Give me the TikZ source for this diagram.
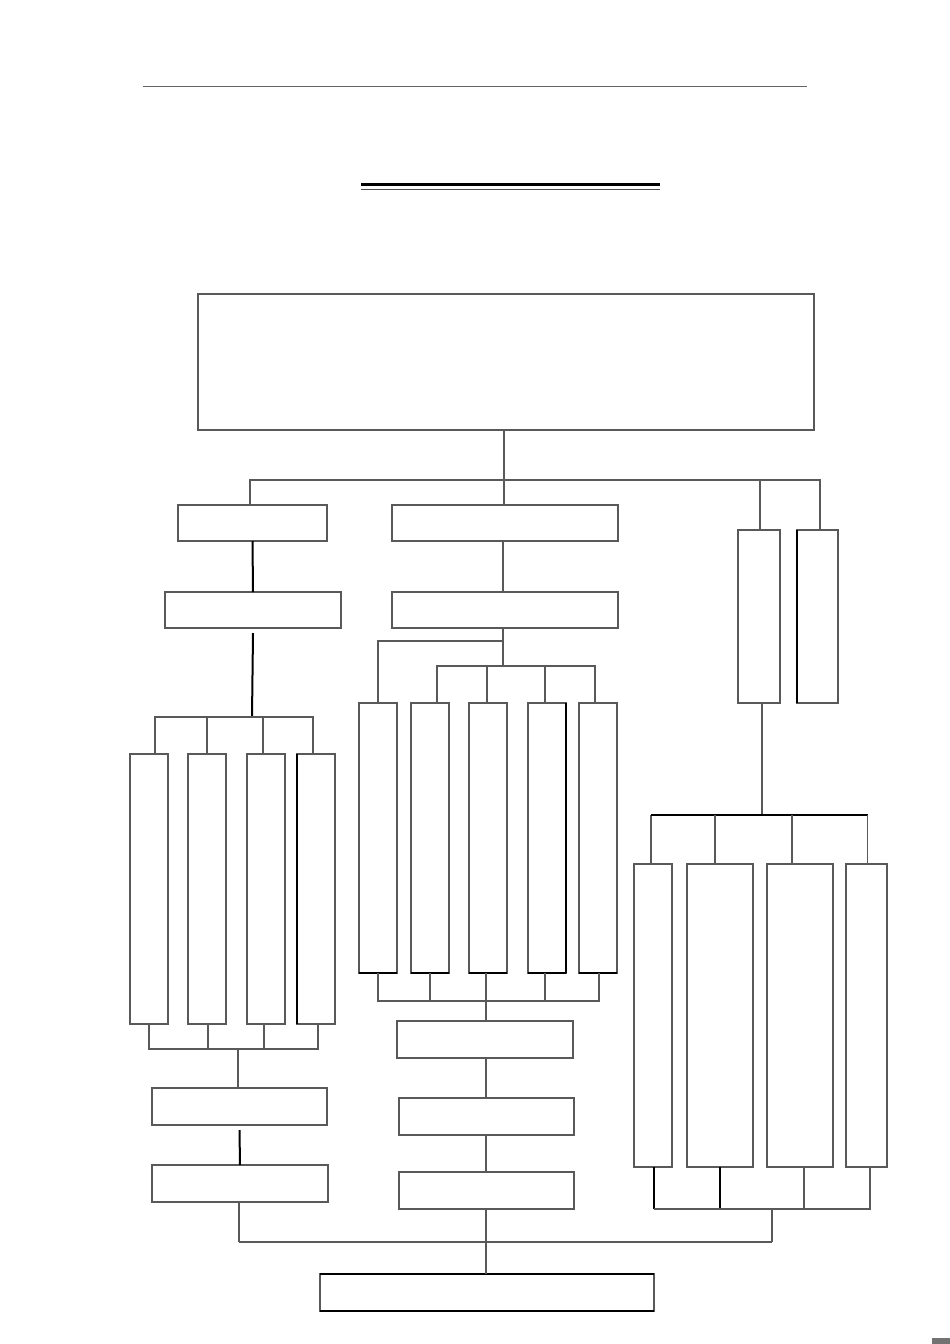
\documentclass[tikz,border=0pt]{standalone}
\begin{document}
\begin{tikzpicture}[x=1pt,y=-1pt,
  bx/.style={draw=black!65, line width=1.1pt, inner sep=0pt, outer sep=0pt, fill=white},
  ln/.style={draw=black!65, line width=1.1pt},
  tk/.style={draw=black, line width=2pt}]
\useasboundingbox (0,0) rectangle (950,1344);
\newcommand\bx[6][]{%
  \pgfmathsetmacro\bxw{#5-#3}\pgfmathsetmacro\bxh{#6-#4}%
  \pgfmathsetmacro\bxcx{(#3+#5)/2}\pgfmathsetmacro\bxcy{(#4+#6)/2}%
  \node[bx,minimum width=\bxw pt,minimum height=\bxh pt,#1] (#2) at (\bxcx,\bxcy) {};}
% header rule and title underline
\draw[draw=black!60, line width=1pt] (143,86) -- (807,86);
\draw[draw=black, line width=3.5pt] (361,184.5) -- (660,184.5);
\draw[draw=black!70, line width=1pt] (361,189.5) -- (660,189.5);
% boxes
\bx{top}{198}{294}{814}{430}
\bx{L1}{178}{505}{327}{541}
\bx{L2}{165}{592}{341}{628}
\bx{A1}{130}{754}{168}{1024}
\bx{A2}{188}{754}{226}{1024}
\bx{A3}{247}{754}{285}{1024}
\bx{A4}{297}{754}{335}{1024}
\bx{L3}{152}{1088}{327}{1125}
\bx{L4}{152}{1165}{328}{1202}
\bx{M1}{392}{505}{618}{541}
\bx{M2}{392}{592}{618}{628}
\bx{B1}{359}{703}{397}{973}
\bx{B2}{411}{703}{449}{973}
\bx{B3}{469}{703}{507}{973}
\bx{B4}{528}{703}{566}{973}
\bx{B5}{579}{703}{617}{973}
\bx{M3}{397}{1021}{573}{1058}
\bx{M4}{399}{1098}{574}{1135}
\bx{M5}{399}{1172}{574}{1209}
\bx{R1}{738}{530}{780}{703}
\bx{R2}{797}{530}{838}{703}
\bx{C1}{634}{864}{672}{1167}
\bx{C2}{687}{864}{753}{1167}
\bx{C3}{767}{864}{833}{1167}
\bx{C4}{846}{864}{887}{1167}
\bx{F}{320}{1274}{654}{1311}
% accents
\draw[tk,line width=1.6pt] (A4.north west) -- (A4.south west);
\draw[tk,line width=1.6pt] (R2.north west) -- (R2.south west);
\draw[tk,line width=1.6pt] (F.north west) -- (F.north east);
\draw[tk,line width=1.6pt] (F.south west) -- (F.south east);
\foreach \b in {B1,B2,B3,B4,B5} \draw[tk,line width=1.5pt] (\b.south west) -- (\b.south east);
\draw[tk,line width=1.5pt] (B4.north east) -- (B4.south east);
% coordinates for buses
\coordinate (tb) at (504,480);
\coordinate (lb) at (252,717);
\coordinate (lbb) at (238,1049);
\coordinate (mb1) at (503,641);
\coordinate (mb2) at (503,666);
\coordinate (mbb) at (486,1001);
\coordinate (rb) at (762,815);
\coordinate (rbb) at (772,1209);
\coordinate (fb) at (486,1242);
% top level
\draw[ln] (top.south -| tb) -- (tb);
\draw[ln] ([xshift=-2.5pt]L1.north) -- ([xshift=-2.5pt]L1.north |- tb) -- ([xshift=2.5pt]R2.north |- tb) -- ([xshift=2.5pt]R2.north);
\draw[ln] (tb) -- (M1.north -| tb);
\draw[ln] ([xshift=1pt]R1.north) -- ([xshift=1pt]R1.north |- tb);
% left column
\draw[tk] (L1.south) -- (L2.north);
\draw[tk] ([yshift=-5pt]L2.south) -- (lb);
\draw[ln] ([xshift=6pt]A1.north) -- ([xshift=6pt]A1.north |- lb) -- ([xshift=-3pt]A4.north |- lb) -- ([xshift=-3pt]A4.north);
\draw[ln] (A2.north) -- (A2.north |- lb);
\draw[ln] ([xshift=-3pt]A3.north) -- ([xshift=-3pt]A3.north |- lb);
\draw[ln] (A1.south) -- (A1.south |- lbb) -- ([xshift=2pt]A4.south |- lbb) -- ([xshift=2pt]A4.south);
\draw[ln] ([xshift=1pt]A2.south) -- ([xshift=1pt]A2.south |- lbb);
\draw[ln] ([xshift=-2pt]A3.south) -- ([xshift=-2pt]A3.south |- lbb);
\draw[ln] (lbb) -- (L3.north -| lbb);
\draw[tk] ([yshift=-5pt]L3.south) -- (L4.north);
\draw[ln] ([xshift=-1pt]L4.south) -- ([xshift=-1pt]L4.south |- fb);
% middle column
\draw[ln] (M1.south -| mb1) -- (M2.north -| mb1);
\draw[ln] (M2.south -| mb1) -- (mb2);
\draw[ln] (mb1) -- (mb1 -| B1.north) -- (B1.north);
\draw[ln] ([xshift=7pt]B2.north) -- ([xshift=7pt]B2.north |- mb2) -- ([xshift=-3pt]B5.north |- mb2) -- ([xshift=-3pt]B5.north);
\draw[ln] ([xshift=-1pt]B3.north) -- ([xshift=-1pt]B3.north |- mb2);
\draw[ln] ([xshift=-2pt]B4.north) -- ([xshift=-2pt]B4.north |- mb2);
\draw[ln] (B1.south) -- (B1.south |- mbb) -- ([xshift=1pt]B5.south |- mbb) -- ([xshift=1pt]B5.south);
\draw[ln] (B2.south) -- (B2.south |- mbb);
\draw[ln] ([xshift=-2pt]B3.south) -- ([xshift=-2pt]B3.south |- mbb);
\draw[ln] ([xshift=-2pt]B4.south) -- ([xshift=-2pt]B4.south |- mbb);
\draw[ln] (mbb) -- (M3.north -| mbb);
\draw[ln] (M3.south -| mbb) -- (M4.north -| mbb);
\draw[ln] (M4.south -| mbb) -- (M5.north -| mbb);
\draw[ln] (M5.south -| mbb) -- (F.north -| mbb);
% right column
\draw[ln] (R1.south -| rb) -- (rb);
\draw[ln] ([xshift=-2pt]C1.north) -- ([xshift=-2pt]C1.north |- rb);
\draw[tk,line width=1.6pt] ([xshift=-2pt]C1.north |- rb) -- ([xshift=1pt]C4.north |- rb);
\draw[ln] ([xshift=1pt]C4.north |- rb) -- ([xshift=1pt]C4.north);
\draw[ln] ([xshift=-5pt]C2.north) -- ([xshift=-5pt]C2.north |- rb);
\draw[ln] ([xshift=-8pt]C3.north) -- ([xshift=-8pt]C3.north |- rb);
\draw[tk,line width=1.6pt] ([xshift=1pt]C1.south) -- ([xshift=1pt]C1.south |- rbb);
\draw[tk,line width=1.6pt] (C2.south) -- (C2.south |- rbb);
\draw[ln] ([xshift=1pt]C1.south |- rbb) -- ([xshift=3.5pt]C4.south |- rbb) -- ([xshift=3.5pt]C4.south);
\draw[ln] ([xshift=4pt]C3.south) -- ([xshift=4pt]C3.south |- rbb);
\draw[ln] (rbb) -- (rbb |- fb);
% bottom bus
\draw[ln] ([xshift=-1pt]L4.south |- fb) -- (rbb |- fb);
% corner mark
\fill[black!55] (932,1338) rectangle (950,1344);
\end{tikzpicture}
\end{document}
